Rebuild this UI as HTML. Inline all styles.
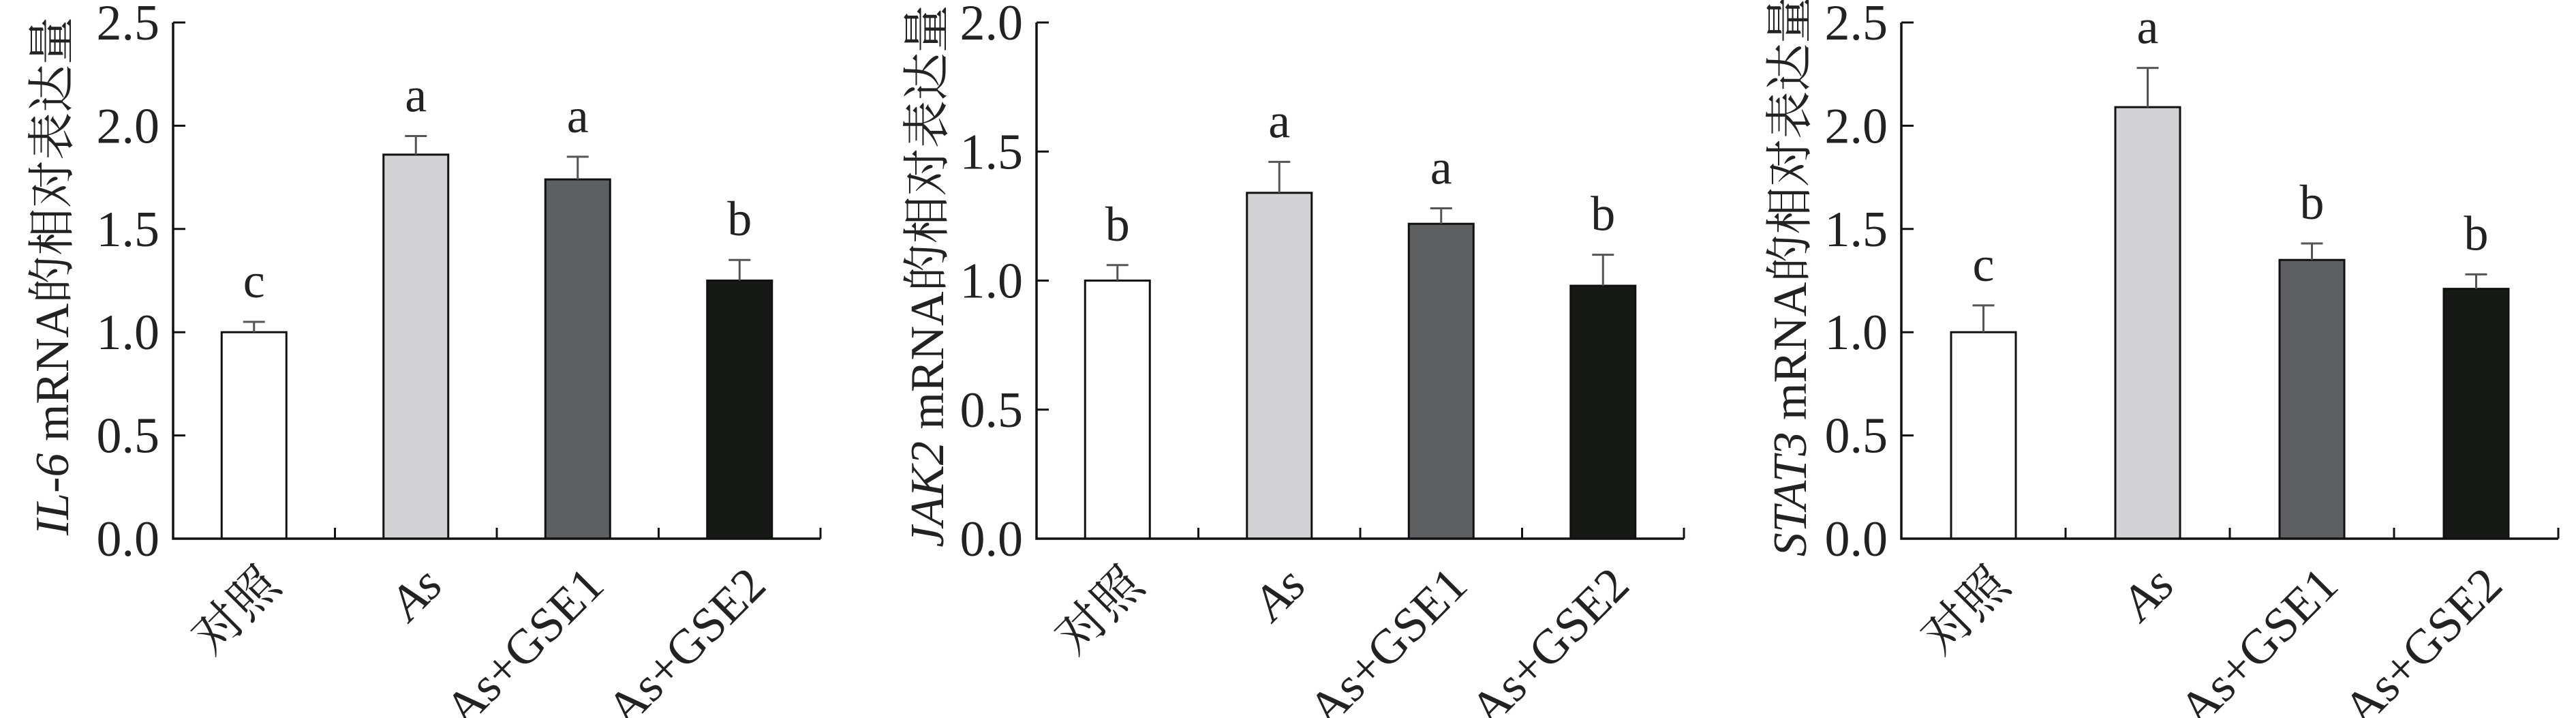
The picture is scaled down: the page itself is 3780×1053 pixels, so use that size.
<!DOCTYPE html>
<html><head><meta charset="utf-8"><style>
html,body{margin:0;padding:0;background:#fff;}
svg{display:block;}
text{font-family:"Liberation Serif","Noto Serif CJK SC","Noto Sans CJK SC",serif;fill:#222;}
</style></head><body>
<svg id="fig" width="3780" height="1053" viewBox="0 0 3780 1053"></svg>
<script>
const categories = ["对照", "As", "As+GSE1", "As+GSE2"];
const il6Values = [1.0, 1.86, 1.74, 1.25];
const il6Errors = [0.05, 0.09, 0.11, 0.10];
const il6Letters = ["c", "a", "a", "b"];
const jak2Values = [1.0, 1.34, 1.22, 0.98];
const jak2Errors = [0.06, 0.12, 0.06, 0.12];
const jak2Letters = ["b", "a", "a", "b"];
const stat3Values = [1.0, 2.09, 1.35, 1.21];
const stat3Errors = [0.13, 0.19, 0.08, 0.07];
const stat3Letters = ["c", "a", "b", "b"];
const ticks25 = ["0.0", "0.5", "1.0", "1.5", "2.0", "2.5"];
const ticks20 = ["0.0", "0.5", "1.0", "1.5", "2.0"];
const barColors = ["#ffffff", "#d3d3d5", "#5e5f61", "#171916"];

const NS = "http://www.w3.org/2000/svg";
const svg = document.getElementById("fig");
function mk(tag, attrs, parent) {
  const e = document.createElementNS(NS, tag);
  for (const k in attrs) e.setAttribute(k, attrs[k]);
  (parent || svg).appendChild(e);
  return e;
}

function drawChart(id, x0, x1, maxV, tickLabels, values, errors, letters, gene, titleX) {
  const g = mk("g", {});
  
  
  const yBase = 790, yTop = 33;
  const ys = v => yBase - (v / maxV) * (yBase - yTop);
  const band = (x1 - x0) / categories.length;
  const xc = i => x0 + band * (i + 0.5);
  const barW = 95;

  values.forEach((v, i) => {
    const r = mk("rect", {x: xc(i) - barW / 2, y: ys(v), width: barW, height: yBase - ys(v), fill: barColors[i], stroke: "#111", "stroke-width": 3}, g);
    
    
    const top = ys(v + errors[i]);
    const eb = mk("path", {d: `M${xc(i)},${ys(v)} V${top} M${xc(i) - 16},${top} H${xc(i) + 16}`, stroke: "#555", "stroke-width": 3, fill: "none"}, g);
    
    
    const lt = mk("text", {x: xc(i), y: top - 36, "text-anchor": "middle", "font-size": 72}, g);
    lt.textContent = letters[i];
    
    
    const lx = xc(i) + 42, ly = 862;
    const xl = mk("text", {x: lx, y: ly, "text-anchor": "end", "font-size": 72, transform: `rotate(-45 ${lx} ${ly})`, "font-style": i === 1 ? "italic" : "normal"}, g);
    xl.textContent = categories[i];
    
    
  });

  const ax = mk("path", {d: `M${x0},${yTop} V${yBase} H${x1}`, stroke: "#111", "stroke-width": 3.5, fill: "none"}, g);
  
  
  for (let i = 1; i <= categories.length; i++) {
    const xt = x0 + band * i;
    mk("line", {x1: xt, x2: xt, y1: yBase, y2: yBase - 16, stroke: "#111", "stroke-width": 3}, g);
  }
  tickLabels.forEach(t => {
    const v = parseFloat(t), y = ys(v);
    mk("line", {x1: x0, x2: x0 + 18, y1: y, y2: y, stroke: "#111", "stroke-width": 3}, g);
    const tl = mk("text", {x: x0 - 20, y: y + 25, "text-anchor": "end", "font-size": 74}, g);
    tl.textContent = t;
    
    
  });

  const ty = 405;
  const tt = mk("text", {x: titleX, y: ty, "text-anchor": "middle", "font-size": 70, transform: `rotate(-90 ${titleX} ${ty})`, "dominant-baseline": "middle"}, g);
  
  
  const ts = mk("tspan", {"font-style": "italic"}, tt);
  ts.textContent = gene;
  const ts2 = mk("tspan", {}, tt);
  ts2.textContent = " mRNA的相对表达量";
}

drawChart("il6", 254, 1204, 2.5, ticks25, il6Values, il6Errors, il6Letters, "IL-6", 84);
drawChart("jak2", 1521, 2471, 2.0, ticks20, jak2Values, jak2Errors, jak2Letters, "JAK2", 1368);
drawChart("stat3", 2790, 3754, 2.5, ticks25, stat3Values, stat3Errors, stat3Letters, "STAT3", 2634);
</script>
</body></html>
